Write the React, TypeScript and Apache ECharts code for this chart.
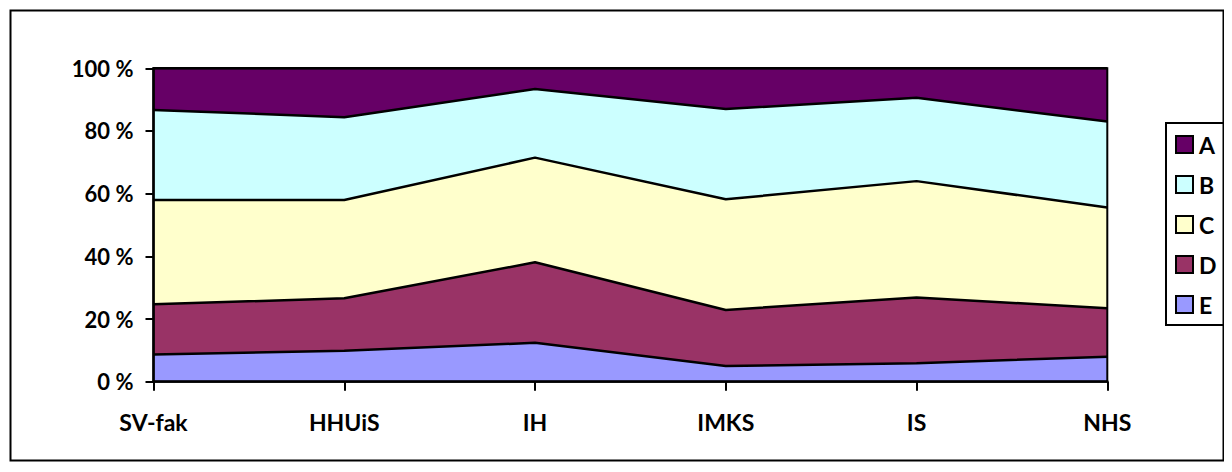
import React, { useEffect, useRef } from "react";
import * as echarts from "echarts";

const categories = ["SV-fak", "HHUiS", "IH", "IMKS", "IS", "NHS"];
const seriesNames = ["A", "B", "C", "D", "E"];
const valuesE = [8.7, 9.9, 12.4, 5.0, 5.9, 8.0];
const valuesD = [16.0, 16.7, 25.7, 17.9, 21.0, 15.4];
const valuesC = [33.3, 31.4, 33.4, 35.3, 37.1, 32.2];
const valuesB = [28.7, 26.4, 21.9, 28.8, 26.6, 27.4];
const valuesA = [13.3, 15.6, 6.6, 13.0, 9.4, 17.0];
const yTicks = [0, 20, 40, 60, 80, 100];

const colors: Record<string, string> = {
  A: "#660066",
  B: "#CCFFFF",
  C: "#FFFFCC",
  D: "#993366",
  E: "#9999FF",
};

const FONT = "Lato";

export default function App() {
  const ref = useRef<HTMLDivElement>(null);
  useEffect(() => {
    if (!ref.current) return;
    const chart = echarts.init(ref.current, undefined, { renderer: "svg" });
    const stackOrder: [string, number[]][] = [
      ["E", valuesE],
      ["D", valuesD],
      ["C", valuesC],
      ["B", valuesB],
      ["A", valuesA],
    ];
    chart.setOption({
      animation: false,
      backgroundColor: "#ffffff",
      textStyle: { fontFamily: FONT, fontWeight: "bold", color: "#000" },
      graphic: [
        {
          type: "rect",
          left: 0,
          top: 0,
          shape: { x: 0.5, y: 3.7, width: 1213, height: 450 },
          style: { fill: "none", stroke: "#000", lineWidth: 2 },
          silent: true,
          z: 100,
        },
      ],
      grid: {
        left: 145.5,
        right: 116.7,
        top: 60.3,
        bottom: 82.3,
        show: true,
        borderColor: "#000",
        borderWidth: 2,
        backgroundColor: "transparent",
        z: 5,
      },
      legend: {
        orient: "vertical",
        left: 1158,
        top: 115,
        data: seriesNames,
        icon: "rect",
        itemWidth: 17,
        itemHeight: 17,
        itemGap: 17,
        padding: [10, 11, 9, 9],
        borderColor: "#000",
        borderWidth: 2,
        itemStyle: { borderColor: "#000", borderWidth: 2 },
        textStyle: {
          fontFamily: FONT,
          fontWeight: "bold",
          fontSize: 23,
          color: "#000",
          padding: [0, 0, 0, 1],
        },
      },
      xAxis: {
        type: "category",
        data: categories,
        boundaryGap: false,
        axisLine: { show: true, lineStyle: { color: "#000", width: 2.5 } },
        axisTick: { show: true, length: 9, lineStyle: { color: "#000", width: 2 } },
        axisLabel: {
          fontFamily: FONT,
          fontWeight: "bold",
          fontSize: 23,
          color: "#000",
          margin: 29,
        },
        splitLine: { show: false },
        z: 10,
      },
      yAxis: {
        type: "value",
        min: yTicks[0],
        max: yTicks[yTicks.length - 1],
        interval: 20,
        axisLine: { show: true, lineStyle: { color: "#000", width: 2.5 } },
        axisTick: { show: true, length: 8, lineStyle: { color: "#000", width: 2 } },
        axisLabel: {
          fontFamily: FONT,
          fontWeight: "bold",
          fontSize: 22,
          color: "#000",
          margin: 20,
          formatter: "{value} %",
        },
        splitLine: { show: false },
        z: 10,
      },
      series: stackOrder.map(([name, vals]) => ({
        name,
        type: "line",
        stack: "total",
        data: vals,
        symbol: "none",
        showSymbol: false,
        color: colors[name],
        itemStyle: { color: colors[name] },
        lineStyle: { color: "#000", width: 2.5 },
        areaStyle: { color: colors[name], opacity: 1 },
        emphasis: { disabled: true },
        z: 2,
      })),
    });
    return () => chart.dispose();
  }, []);
  return <div ref={ref} style={{ width: 1216, height: 456 }} />;
}
